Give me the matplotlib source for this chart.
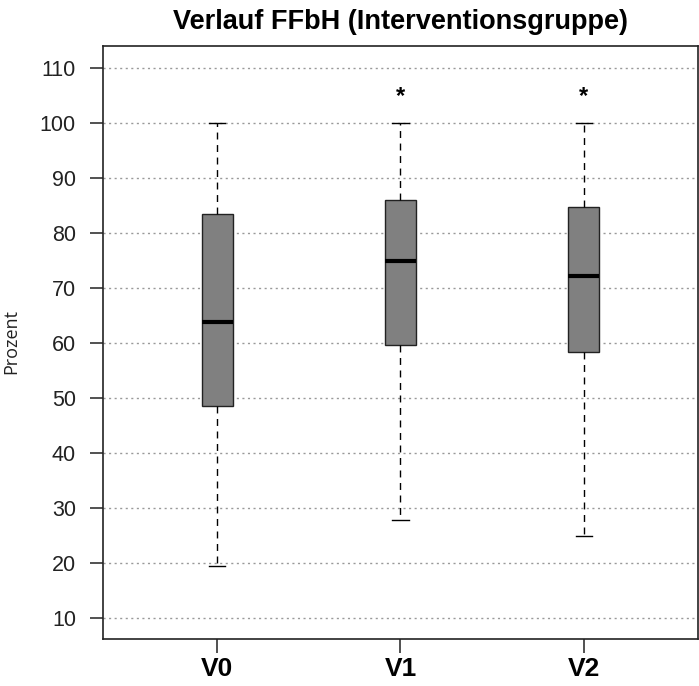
import matplotlib
matplotlib.use("Agg")
import matplotlib.pyplot as plt

plt.rcParams["font.family"] = ["Liberation Sans", "DejaVu Sans"]

# group labels and five-number summaries
groups = ["V0", "V1", "V2"]
whisker_low = [19.5, 27.8, 25.0]
q1 = [48.6, 59.6, 58.4]
median = [63.8, 75.0, 72.1]
q3 = [83.4, 86.0, 84.8]
whisker_high = [100.0, 100.0, 100.0]

# significance markers
star_groups = ["V1", "V2"]
star_y = 104.8

y_ticks = list(range(10, 111, 10))

stats = []
for i, name in enumerate(groups):
    stats.append({
        "label": name,
        "whislo": whisker_low[i],
        "q1": q1[i],
        "med": median[i],
        "q3": q3[i],
        "whishi": whisker_high[i],
        "fliers": [],
    })

fig = plt.figure(figsize=(6.99, 6.86), dpi=100)
ax = fig.add_axes([103 / 699, 47 / 686, 595 / 699, 593 / 686])

positions = list(range(1, len(groups) + 1))
ax.bxp(
    stats,
    positions=positions,
    widths=0.17,
    patch_artist=True,
    showfliers=False,
    boxprops=dict(facecolor="#808080", edgecolor="#222222", linewidth=1.0),
    medianprops=dict(color="black", linewidth=3.0, solid_capstyle="butt"),
    whiskerprops=dict(color="black", linewidth=1.0, linestyle=(0, (5, 4))),
    capprops=dict(color="black", linewidth=1.0),
    capwidths=0.09,
    zorder=3,
)

for name in star_groups:
    ax.text(positions[groups.index(name)], star_y, "*", ha="center", va="center",
            fontsize=17, fontweight="bold", zorder=4)

ax.set_xlim(0.377, 3.623)
ax.set_ylim(6.2, 114.0)
ax.set_yticks(y_ticks)
ax.set_yticklabels([str(v) for v in y_ticks], fontsize=15.5, color="#222222")
ax.set_xticks(positions)
ax.set_xticklabels(groups, fontsize=19, fontweight="bold")

ax.yaxis.grid(True, linestyle=(0, (1.5, 2.5)), color="#999999", linewidth=1.0, zorder=0)
ax.set_axisbelow(True)

ax.tick_params(axis="y", length=9.5, width=1.2, pad=10, color="#333333")
ax.tick_params(axis="x", length=10, width=1.2, pad=3, color="#333333")
for spine in ax.spines.values():
    spine.set_linewidth(1.2)
    spine.set_color("#222222")

ax.set_title("Verlauf FFbH (Interventionsgruppe)", fontsize=19.5, fontweight="bold", pad=12)
fig.text(11 / 699, 1 - 341 / 686, "Prozent", rotation=90, ha="center", va="center",
         fontsize=13, color="#222222", family=["Open Sans", "DejaVu Sans"])

fig.savefig("out.png", dpi=100)
